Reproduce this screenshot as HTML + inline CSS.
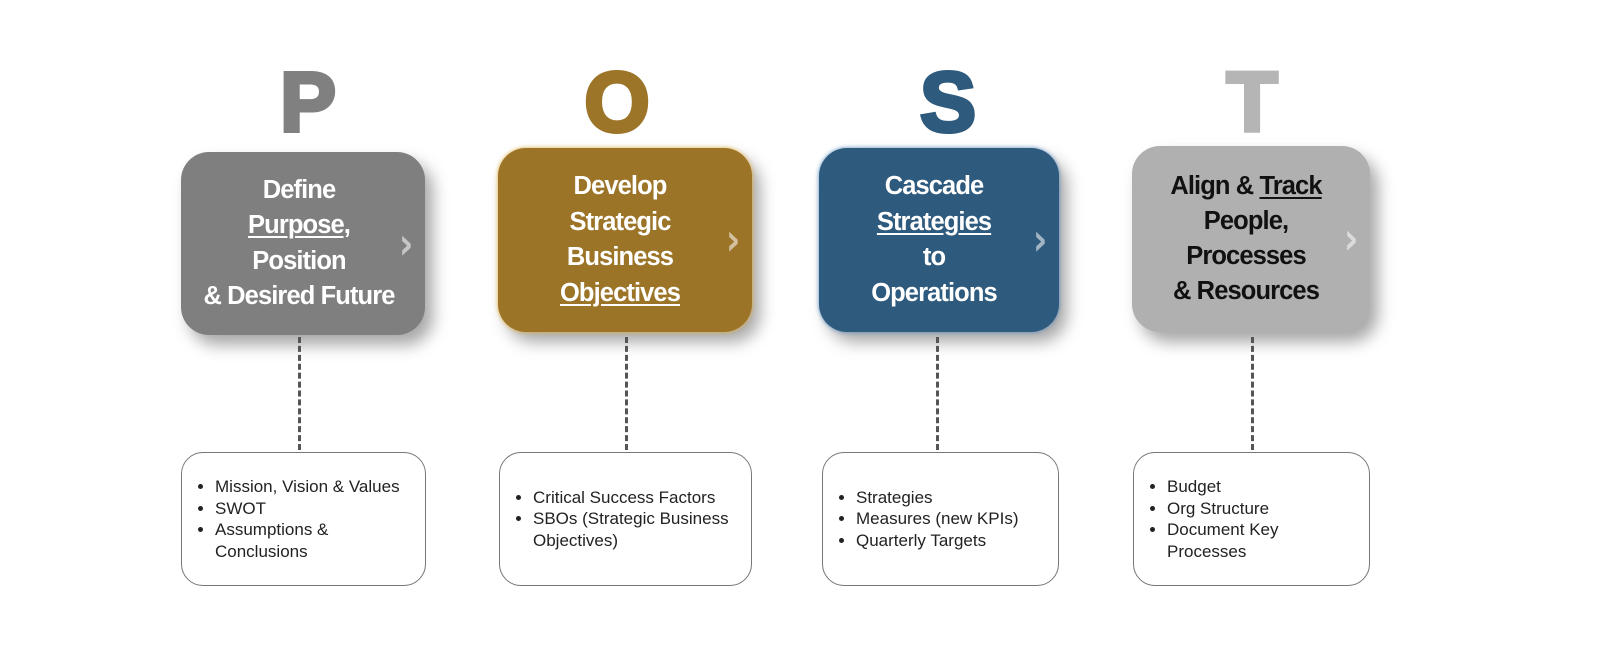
<!DOCTYPE html>
<html><head><style>
body{margin:0;width:1600px;height:660px;background:#fff;position:relative;overflow:hidden;font-family:"Liberation Sans",sans-serif}
.L{position:absolute;top:60px;font-size:84px;font-weight:bold;width:200px;text-align:center;line-height:84px;-webkit-text-stroke:4px currentColor}
.b{position:absolute;border-radius:28px;color:#fff;font-weight:bold;font-size:25.5px;line-height:35.5px;text-align:center;display:flex;align-items:center;justify-content:center;box-shadow:8px 10px 16px rgba(0,0,0,.35);letter-spacing:-0.9px}
.b u{text-decoration-thickness:2px;text-underline-offset:3px}
.ch{position:absolute;font-size:44px;font-weight:bold;color:rgba(255,255,255,.55);top:50%;transform:translateY(-50%) scaleX(0.8);right:10px;font-family:"DejaVu Sans",sans-serif;letter-spacing:0}
.d{position:absolute;width:0;border-left:3px dashed #555;top:337px;height:113px}
.c{position:absolute;top:452px;height:134px;border:1.5px solid #777;border-radius:22px;box-sizing:border-box;display:flex;align-items:center;font-size:17px;color:#222;line-height:21.5px;padding-right:12px}
.c ul{margin:0;padding-left:33px}
.c li{padding-left:0}
</style></head><body>
<div class="L" style="left:208px;color:#808080">P</div>
<div class="L" style="left:517px;color:#9c7528">O</div>
<div class="L" style="left:848px;color:#2e5a7d">S</div>
<div class="L" style="left:1152px;color:#b5b5b5">T</div>

<div class="b" style="left:181px;top:152px;width:244px;height:183px;background:#7f7f7f"><div style="padding-right:8px">Define<br><u>Purpose,</u><br>Position<br>&amp; Desired Future</div><span class="ch">›</span></div>
<div class="b" style="left:498px;top:148px;width:254px;height:184px;background:#9c7428;box-shadow:0 0 4px #e0b040,8px 10px 16px rgba(0,0,0,.35)"><div style="padding-right:10px">Develop<br>Strategic<br>Business<br><u>Objectives</u></div><span class="ch">›</span></div>
<div class="b" style="left:819px;top:148px;width:240px;height:184px;background:#2e5a7d;box-shadow:0 0 4px #5a90c0,8px 10px 16px rgba(0,0,0,.35)"><div style="padding-right:10px">Cascade<br><u>Strategies</u><br>to<br>Operations</div><span class="ch">›</span></div>
<div class="b" style="left:1132px;top:146px;width:238px;height:186px;background:#b0b0b0;color:#111"><div style="padding-right:10px;line-height:35px">Align &amp; <u>Track</u><br>People,<br>Processes<br>&amp; Resources</div><span class="ch">›</span></div>

<div class="d" style="left:298px"></div>
<div class="d" style="left:625px"></div>
<div class="d" style="left:936px"></div>
<div class="d" style="left:1251px"></div>

<div class="c" style="left:181px;width:245px"><ul><li>Mission, Vision &amp; Values</li><li>SWOT</li><li>Assumptions &amp; Conclusions</li></ul></div>
<div class="c" style="left:499px;width:253px"><ul><li>Critical Success Factors</li><li>SBOs (Strategic Business Objectives)</li></ul></div>
<div class="c" style="left:822px;width:237px"><ul><li>Strategies</li><li>Measures (new KPIs)</li><li>Quarterly Targets</li></ul></div>
<div class="c" style="left:1133px;width:237px"><ul><li>Budget</li><li>Org Structure</li><li>Document Key Processes</li></ul></div>
</body></html>
